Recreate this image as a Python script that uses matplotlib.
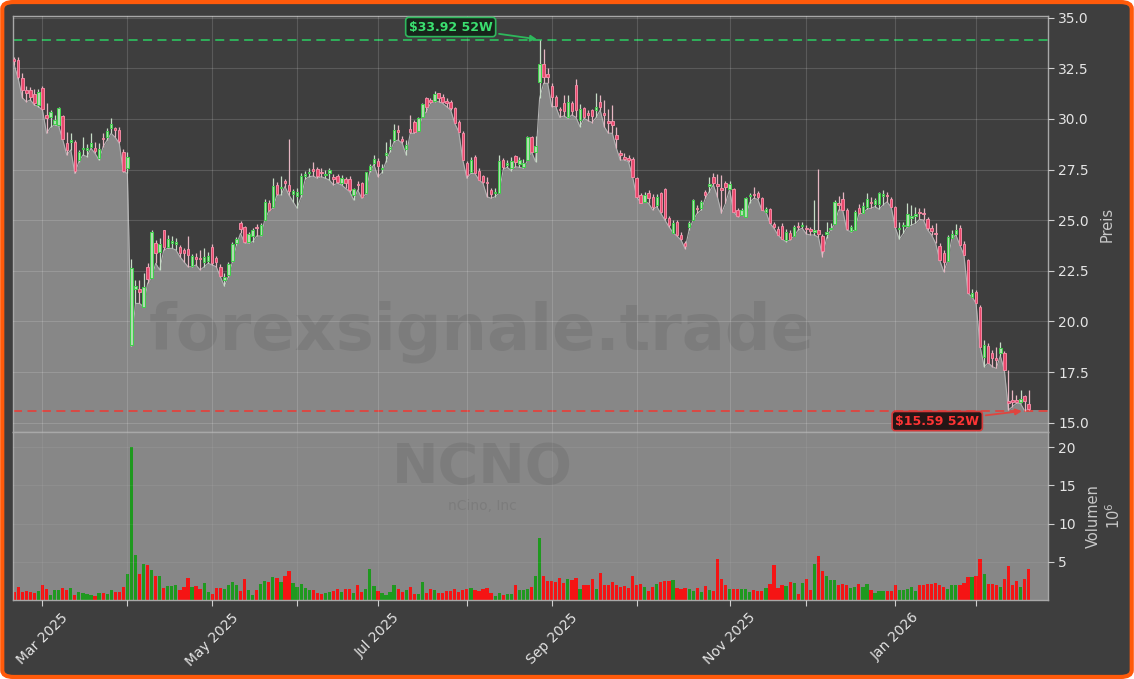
import numpy as np
import pandas as pd
import matplotlib
matplotlib.use("Agg")
import matplotlib.pyplot as plt
from matplotlib.patches import FancyBboxPatch
from matplotlib.ticker import FormatStrFormatter

# NYSE holidays inside the window, used only to build the trading-day axis
holidays = ["2025-04-18", "2025-05-26", "2025-06-19", "2025-07-04", "2025-09-01",
            "2025-11-27", "2025-12-25", "2026-01-01", "2026-01-19", "2026-02-16"]

opens = [
    32.95, 32.90, 32.00, 31.43, 31.43, 31.23, 30.69, 31.51, 30.20, 30.11,
    29.75, 29.70, 30.15, 28.83, 28.85, 28.88, 27.97, 28.50, 28.47, 28.63,
    28.55, 28.05, 29.05, 29.09, 29.54, 29.54, 29.45, 28.38, 27.56, 18.84,
    21.59, 21.59, 20.73, 22.67, 22.13, 23.89, 23.45, 24.52, 23.70, 23.87,
    23.80, 23.69, 23.53, 23.60, 22.75, 23.20, 23.15, 22.95, 23.00, 23.66,
    23.15, 22.70, 22.05, 22.29, 23.00, 23.86, 24.84, 24.65, 23.91, 24.22,
    24.68, 24.27, 25.01, 25.83, 25.67, 26.74, 26.60, 26.95, 26.75, 26.30,
    26.20, 26.30, 27.20, 27.35, 27.55, 27.51, 27.40, 27.25, 27.31, 27.15,
    27.18, 26.82, 27.02, 27.02, 26.24, 26.79, 26.82, 26.33, 27.48, 27.84,
    27.94, 27.55, 28.20, 28.50, 28.96, 29.45, 29.00, 28.50, 29.50, 29.87,
    29.42, 30.11, 31.02, 30.94, 30.90, 31.26, 31.10, 30.90, 30.85, 30.52,
    29.86, 29.32, 27.81, 27.40, 28.10, 27.45, 27.18, 26.90, 26.49, 26.35,
    26.35, 27.95, 27.73, 27.60, 28.15, 27.77, 27.64, 27.97, 29.09, 28.35,
    31.84, 32.71, 32.22, 31.63, 31.10, 30.48, 30.77, 30.08, 30.77, 31.68,
    29.95, 30.52, 30.28, 30.44, 30.45, 30.85, 30.30, 29.90, 29.90, 29.20,
    28.30, 28.14, 28.05, 28.00, 27.07, 26.24, 25.92, 26.33, 26.16, 25.75,
    26.33, 26.52, 25.09, 24.39, 24.91, 24.27, 23.86, 24.68, 25.01, 25.60,
    25.60, 26.41, 26.70, 27.15, 26.80, 26.60, 26.82, 26.52, 26.52, 25.50,
    25.26, 25.18, 26.20, 26.29, 26.36, 26.08, 25.42, 25.54, 24.81, 24.55,
    24.71, 24.02, 24.38, 24.22, 24.70, 24.70, 24.60, 24.55, 24.40, 24.50,
    24.20, 24.30, 24.55, 24.81, 25.85, 26.03, 25.50, 24.48, 24.52, 25.59,
    25.34, 25.67, 25.90, 25.80, 25.80, 26.19, 26.25, 26.03, 25.64, 24.55,
    24.70, 24.70, 25.10, 25.20, 25.40, 25.35, 25.05, 24.60, 24.35, 23.73,
    23.40, 23.00, 24.10, 24.32, 24.60, 23.82, 23.03, 21.22, 21.47, 20.73,
    18.26, 18.79, 18.43, 18.20, 18.46, 18.46, 16.05, 16.10, 16.10, 16.00,
    16.30, 15.90,
]

highs = [
    33.05, 33.04, 32.25, 31.65, 31.60, 31.46, 31.50, 31.63, 30.77, 30.44,
    30.20, 30.60, 30.20, 29.37, 29.30, 28.95, 28.47, 29.09, 28.75, 29.29,
    28.88, 28.80, 29.29, 29.53, 30.03, 29.62, 29.58, 28.50, 28.38, 23.07,
    22.05, 22.05, 22.38, 22.87, 24.51, 24.02, 24.10, 24.52, 24.27, 24.22,
    24.10, 23.78, 23.62, 24.22, 23.35, 23.40, 23.53, 23.61, 23.45, 23.82,
    23.25, 22.85, 22.40, 22.95, 23.90, 24.15, 24.95, 24.70, 24.40, 24.60,
    24.80, 24.85, 26.05, 26.00, 27.07, 26.90, 27.18, 27.05, 28.99, 26.55,
    26.60, 27.31, 27.45, 27.60, 27.85, 27.65, 27.60, 27.50, 27.60, 27.30,
    27.30, 27.25, 27.15, 27.20, 26.60, 26.95, 26.90, 27.40, 27.80, 28.20,
    28.05, 27.80, 28.88, 29.00, 29.75, 29.70, 29.15, 28.96, 30.20, 29.95,
    30.10, 30.80, 31.10, 31.05, 31.40, 31.30, 31.25, 31.05, 30.95, 30.60,
    29.95, 29.40, 27.90, 28.10, 28.20, 27.60, 27.25, 27.15, 26.60, 26.57,
    28.22, 28.05, 27.95, 28.14, 28.22, 28.10, 28.00, 29.16, 29.16, 29.16,
    33.92, 33.44, 32.50, 31.76, 31.20, 30.60, 31.18, 31.18, 30.90, 31.96,
    30.74, 30.60, 30.45, 30.50, 31.27, 31.18, 30.95, 30.50, 30.69, 29.62,
    28.45, 28.30, 28.20, 28.10, 27.15, 26.35, 26.40, 26.50, 26.30, 26.30,
    26.40, 26.60, 25.20, 25.00, 25.00, 24.40, 23.95, 24.95, 26.05, 25.75,
    26.00, 26.50, 27.15, 27.31, 27.28, 27.23, 26.95, 26.95, 26.60, 25.60,
    25.60, 26.15, 26.33, 26.65, 26.45, 26.15, 25.65, 25.60, 24.90, 24.71,
    24.85, 24.55, 24.50, 24.75, 24.93, 24.93, 24.78, 24.68, 26.00, 27.51,
    24.30, 24.93, 24.85, 26.00, 26.20, 26.40, 25.60, 24.75, 25.50, 25.80,
    25.90, 26.36, 26.15, 26.10, 26.40, 26.49, 26.41, 26.15, 25.70, 24.93,
    24.93, 25.83, 25.75, 25.67, 25.60, 25.59, 25.15, 24.75, 24.84, 23.85,
    23.55, 24.25, 24.50, 24.80, 24.75, 23.95, 23.10, 21.60, 21.55, 20.80,
    19.10, 18.95, 18.60, 18.75, 18.98, 18.55, 17.60, 16.60, 16.37, 16.60,
    16.37, 16.60,
]

lows = [
    32.66, 31.98, 31.05, 30.85, 30.94, 30.69, 30.61, 30.44, 29.29, 29.59,
    29.70, 29.65, 28.99, 28.22, 28.47, 27.31, 27.89, 28.22, 28.14, 28.55,
    28.30, 27.97, 28.63, 28.96, 29.29, 29.09, 28.80, 27.40, 27.31, 18.79,
    20.89, 20.89, 20.73, 21.88, 22.13, 22.87, 22.54, 23.53, 23.61, 23.61,
    23.53, 23.20, 22.95, 22.70, 22.70, 22.79, 22.54, 22.70, 22.87, 22.79,
    22.70, 22.21, 21.75, 22.21, 22.95, 23.78, 24.35, 23.88, 23.86, 23.94,
    24.22, 24.22, 25.01, 25.45, 25.59, 26.24, 26.24, 26.66, 26.24, 25.92,
    25.59, 26.16, 27.02, 27.15, 27.18, 27.07, 27.15, 27.07, 26.98, 26.74,
    26.82, 26.74, 26.57, 26.41, 26.00, 26.49, 26.08, 26.30, 27.40, 27.75,
    27.15, 27.35, 27.89, 28.38, 28.88, 28.96, 28.80, 28.22, 29.29, 29.29,
    29.42, 30.11, 30.36, 30.77, 30.85, 30.85, 30.77, 30.61, 30.44, 29.78,
    29.37, 27.97, 27.07, 27.31, 27.31, 26.99, 26.82, 26.16, 26.08, 26.16,
    26.33, 27.51, 27.61, 27.45, 27.64, 27.61, 27.56, 27.95, 28.38, 27.89,
    31.02, 31.76, 31.76, 30.61, 30.61, 30.08, 30.15, 30.03, 30.20, 30.08,
    29.62, 30.03, 29.92, 29.82, 30.08, 30.44, 29.62, 29.30, 29.29, 28.55,
    27.97, 27.97, 27.89, 27.15, 26.16, 25.87, 25.92, 25.83, 25.50, 25.67,
    25.34, 25.01, 24.68, 24.39, 24.22, 24.02, 23.60, 24.52, 25.01, 25.34,
    25.50, 26.08, 26.41, 26.74, 26.16, 25.34, 25.83, 26.52, 25.42, 25.17,
    25.26, 25.17, 25.87, 26.08, 26.03, 25.50, 25.42, 24.85, 24.60, 24.27,
    24.06, 23.94, 24.02, 24.22, 24.52, 24.60, 24.32, 24.27, 24.27, 24.15,
    23.20, 24.11, 24.52, 24.81, 25.50, 25.50, 24.52, 24.43, 24.52, 25.31,
    25.34, 25.54, 25.59, 25.67, 25.54, 25.75, 25.91, 25.64, 24.65, 24.06,
    24.35, 24.68, 24.76, 24.84, 25.04, 25.01, 24.52, 24.27, 23.86, 23.03,
    22.46, 23.00, 24.10, 24.27, 23.77, 23.28, 21.39, 21.22, 20.89, 18.75,
    17.77, 17.96, 17.77, 17.68, 18.30, 17.60, 15.63, 15.79, 15.96, 15.95,
    15.59, 15.65,
]

closes = [
    32.85, 32.05, 31.43, 31.27, 31.10, 30.77, 31.35, 30.48, 30.03, 30.36,
    29.95, 30.52, 29.00, 28.47, 28.95, 27.45, 28.38, 28.55, 28.55, 28.80,
    28.43, 28.50, 29.00, 29.41, 29.75, 29.45, 28.93, 27.45, 28.14, 22.62,
    21.75, 21.47, 21.72, 22.08, 24.43, 23.40, 23.81, 23.70, 24.06, 23.98,
    23.93, 23.36, 23.40, 23.30, 23.23, 23.10, 23.10, 23.20, 23.23, 22.87,
    22.95, 22.26, 22.21, 22.84, 23.82, 24.07, 24.58, 23.91, 24.32, 24.52,
    24.60, 24.76, 25.88, 25.50, 26.69, 26.29, 26.65, 26.85, 26.45, 26.45,
    26.40, 27.20, 27.30, 27.40, 27.45, 27.20, 27.35, 27.30, 27.48, 27.02,
    26.90, 27.07, 26.82, 26.49, 26.52, 26.72, 26.13, 27.36, 27.68, 28.02,
    27.69, 27.60, 28.30, 28.60, 29.45, 29.35, 28.90, 28.70, 29.35, 29.37,
    30.03, 30.74, 30.60, 30.82, 31.23, 31.02, 30.85, 30.80, 30.52, 29.78,
    29.37, 27.97, 27.23, 27.97, 27.35, 26.99, 26.90, 26.85, 26.30, 26.40,
    27.90, 27.65, 27.81, 27.90, 27.85, 27.97, 27.84, 29.09, 28.38, 28.68,
    32.71, 32.09, 32.09, 31.10, 30.64, 30.42, 30.39, 30.85, 30.39, 30.44,
    30.47, 30.08, 30.20, 30.15, 30.60, 30.60, 30.20, 29.80, 29.70, 29.00,
    28.20, 28.00, 27.95, 27.15, 26.16, 25.87, 26.24, 26.08, 25.64, 26.16,
    25.42, 25.09, 24.76, 24.88, 24.27, 24.05, 23.73, 24.88, 25.99, 25.55,
    25.92, 26.24, 26.78, 26.85, 26.70, 26.50, 26.66, 26.79, 25.42, 25.20,
    25.50, 26.08, 26.25, 26.23, 26.16, 25.50, 25.54, 24.85, 24.65, 24.27,
    24.06, 24.43, 24.06, 24.65, 24.65, 24.75, 24.55, 24.45, 24.50, 24.30,
    23.50, 24.40, 24.60, 25.92, 25.75, 25.50, 24.55, 24.68, 25.42, 25.34,
    25.70, 26.03, 25.83, 25.99, 26.33, 26.29, 26.20, 25.64, 24.65, 24.60,
    24.75, 25.30, 25.20, 25.30, 25.35, 25.30, 24.60, 24.45, 24.30, 23.03,
    22.95, 24.15, 24.32, 24.52, 23.77, 23.28, 21.39, 21.39, 20.93, 18.75,
    18.84, 17.96, 18.18, 18.10, 18.67, 17.60, 15.95, 16.00, 16.00, 16.15,
    16.05, 15.70,
]

# volume in millions of shares
volumes = [
    1.10, 1.70, 1.00, 1.15, 1.05, 0.90, 1.15, 1.90, 1.45, 0.70,
    1.35, 1.35, 1.60, 1.35, 1.60, 0.70, 1.05, 0.95, 0.85, 0.60,
    0.55, 0.90, 0.90, 0.85, 1.30, 1.00, 1.10, 1.75, 3.35, 20.00,
    5.90, 3.35, 4.70, 4.55, 3.90, 3.10, 3.20, 1.60, 1.80, 1.80,
    1.90, 1.30, 1.70, 2.90, 1.70, 1.80, 1.40, 2.20, 1.00, 0.80,
    1.55, 1.55, 1.40, 1.95, 2.30, 2.00, 1.15, 2.70, 1.25, 0.70,
    1.25, 2.10, 2.55, 2.40, 3.00, 2.90, 2.30, 3.20, 3.75, 2.20,
    1.70, 2.05, 1.60, 1.25, 1.25, 0.90, 0.75, 0.90, 1.10, 1.15,
    1.40, 1.05, 1.40, 1.50, 0.95, 1.95, 1.10, 1.50, 4.00, 1.80,
    1.15, 0.95, 0.65, 1.00, 2.00, 1.50, 1.00, 1.25, 1.75, 0.85,
    0.85, 2.30, 0.90, 1.40, 1.25, 0.95, 0.95, 1.15, 1.15, 1.40,
    1.00, 1.25, 1.40, 1.60, 1.25, 1.15, 1.40, 1.60, 0.90, 0.50,
    0.95, 0.60, 0.85, 0.75, 1.95, 1.25, 1.25, 1.50, 1.70, 3.20,
    8.10, 3.20, 2.45, 2.45, 2.35, 2.90, 2.25, 2.80, 2.60, 2.90,
    1.50, 2.00, 2.00, 2.70, 1.50, 3.60, 2.00, 2.00, 2.30, 1.90,
    1.75, 1.85, 1.60, 3.20, 1.90, 2.15, 1.70, 1.15, 1.75, 2.15,
    2.35, 2.45, 2.45, 2.65, 1.60, 1.50, 1.60, 1.50, 1.20, 1.60,
    1.05, 1.85, 1.30, 1.20, 5.40, 2.80, 1.90, 1.40, 1.40, 1.40,
    1.40, 1.40, 1.00, 1.25, 1.15, 1.20, 1.60, 2.15, 4.55, 1.60,
    1.95, 1.85, 2.35, 2.25, 0.80, 2.25, 2.80, 1.30, 4.65, 5.70,
    3.85, 3.15, 2.65, 2.65, 1.90, 2.15, 1.90, 1.60, 1.75, 2.15,
    1.75, 2.15, 1.35, 0.95, 1.15, 1.15, 1.15, 1.15, 2.00, 1.35,
    1.35, 1.50, 1.70, 1.20, 2.00, 2.00, 2.10, 2.10, 2.20, 1.90,
    1.75, 1.50, 2.00, 2.00, 2.00, 2.20, 3.05, 3.00, 3.20, 5.40,
    3.35, 2.10, 2.10, 2.00, 1.75, 2.80, 4.50, 2.00, 2.50, 1.75,
    2.80, 4.00,
]

ticker = "NCNO"
company = "nCino, Inc"
watermark = "forexsignale.trade"

BG = "#3e3e3e"
AREA = "#878787"
TXT = "#e4e4e4"

o = np.array(opens)
h = np.array(highs)
l = np.array(lows)
c = np.array(closes)
v = np.array(volumes)
n = len(c)
x = np.arange(n)
dates = pd.bdate_range("2025-02-20", "2026-02-20", freq="C", holidays=holidays)[:n]

fig = plt.figure(figsize=(11.34, 6.79), dpi=100, facecolor="white")
fig.patches.append(FancyBboxPatch((0.002, 0.003), 0.996, 0.994,
                                  boxstyle="round,pad=0,rounding_size=0.01",
                                  transform=fig.transFigure, facecolor=BG,
                                  edgecolor="#ff5a0a", linewidth=3, zorder=-10))

ax = fig.add_axes([0.01146, 0.36377, 0.91270, 0.61193])
axv = fig.add_axes([0.01146, 0.11635, 0.91270, 0.24742], sharex=ax)
ax.set_facecolor(BG)
axv.set_facecolor(AREA)

xlo, xhi = -0.3, 255.8
ylo, yhi = 14.54, 35.06

# area under the daily lows
xf = np.concatenate([[xlo], x, [xhi]])
lf = np.concatenate([[l[0]], l, [l[-1]]])
ax.fill_between(xf, lf, ylo - 1, color=AREA, zorder=1, linewidth=0)
ax.plot(x, l, color="#b2b2b2", lw=0.8, zorder=2)

up = c >= o
face = np.where(up, "#b0dcb0", "#e8486c")
edge = np.where(up, "#3fcf4a", "#f08aa4")
wick = np.where(up, "#c6dcc6", "#e6b6c2")
ax.vlines(x, l, h, colors=wick, lw=0.9, zorder=3)
ax.bar(x, np.maximum(np.abs(c - o), 0.03), 0.6, bottom=np.minimum(o, c),
       color=face, edgecolor=edge, linewidth=0.7, zorder=4)

# 52 week high / low
hi_i, lo_i = int(np.argmax(h)), int(np.argmin(l))
hi, lo = h[hi_i], l[lo_i]
ax.axhline(hi, color="#2eb85c", ls=(0, (5, 3)), lw=1.3, zorder=2.5)
ax.axhline(lo, color="#e0443e", ls=(0, (5, 3)), lw=1.3, zorder=2.5)
ax.annotate(f"${hi:.2f} 52W", xy=(hi_i, hi), xytext=(108, 34.54),
            color="#3be070", fontsize=9, fontweight="bold", ha="center", va="center",
            bbox=dict(boxstyle="round,pad=0.25", fc="#17251b", ec="#2eb85c", lw=1.2),
            arrowprops=dict(arrowstyle="-|>", color="#2eb85c", lw=1.3, mutation_scale=9),
            zorder=6)
ax.annotate(f"${lo:.2f} 52W", xy=(lo_i, lo), xytext=(228.4, 15.08),
            color="#ff3434", fontsize=9, fontweight="bold", ha="center", va="center",
            bbox=dict(boxstyle="round,pad=0.25", fc="#251616", ec="#d63a3a", lw=1.2),
            arrowprops=dict(arrowstyle="-|>", color="#e0443e", lw=1.3, mutation_scale=9),
            zorder=6)

ax.text(115.8, 19.48, watermark, fontsize=46, fontweight="bold", color="black",
        alpha=0.08, ha="center", va="center", zorder=1.5)

# volume panel
axv.bar(x, v, 0.8, color=np.where(up, "#1f991f", "#f51414"), zorder=2)
axv.text(115.8, 15.3, ticker, fontsize=40, fontweight="bold", color="black",
         alpha=0.08, ha="center", va="baseline", zorder=1)
axv.text(115.8, 12.3, company, fontsize=10, color="black",
         alpha=0.08, ha="center", va="center", zorder=1)

# month ticks on trading-day index
month = dates.month
starts = [i for i in range(1, n) if month[i] != month[i - 1]]
labels = [dates[i].strftime("%b %Y") if dates[i].month % 2 == 1 else "" for i in starts]
axv.set_xticks(starts)
axv.set_xticklabels(labels, rotation=45, ha="center")
ax.set_xlim(xlo, xhi)
ax.tick_params(axis="x", length=0, labelbottom=False)

ax.set_ylim(ylo, yhi)
ax.set_yticks(np.arange(15, 35.01, 2.5))
ax.yaxis.set_major_formatter(FormatStrFormatter("%.1f"))
axv.set_ylim(0, 22)
axv.set_yticks([5, 10, 15, 20])

for a in (ax, axv):
    a.yaxis.tick_right()
    a.yaxis.set_label_position("right")
    a.tick_params(colors="#cfcfcf", labelcolor=TXT, labelsize=10, length=4)
    a.grid(True, color="white", alpha=0.15, lw=0.8)
    a.set_axisbelow(False)
    for s in a.spines.values():
        s.set_color("#a8a8a8")
        s.set_linewidth(1.0)
axv.grid(True, color="white", alpha=0.06, lw=0.8)

ax.set_ylabel("Preis", color="#c8c8c8", fontsize=10.5)
ax.yaxis.set_label_coords(1.050, 0.5)
axv.set_ylabel("Volumen\n$10^{6}$", color="#c8c8c8", fontsize=10.5)
axv.yaxis.set_label_coords(1.037, 0.5)

fig.savefig("out.png", dpi=100, facecolor=fig.get_facecolor())
